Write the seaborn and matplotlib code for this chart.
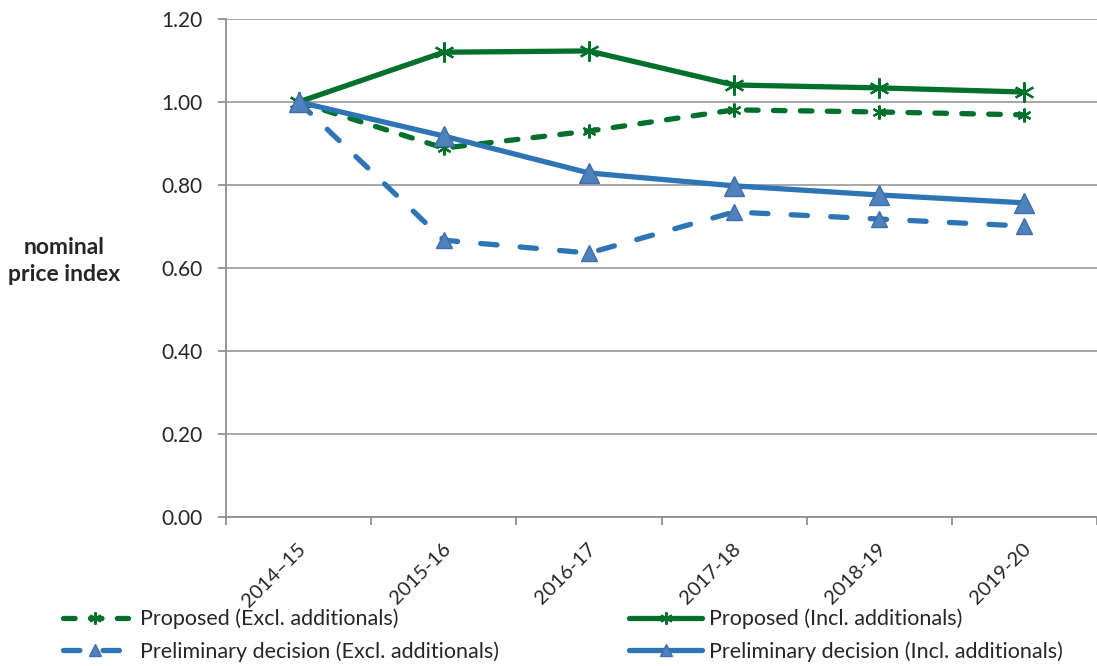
import numpy as np
import pandas as pd
import seaborn as sns
import matplotlib.pyplot as plt
from matplotlib.lines import Line2D
import matplotlib.transforms as mtransforms

years = ["2014\u201315", "2015-16", "2016-17", "2017-18", "2018-19", "2019-20"]
proposed_excl = [1.00, 0.889, 0.930, 0.981, 0.976, 0.969]
proposed_incl = [1.00, 1.120, 1.123, 1.041, 1.034, 1.024]
prelim_excl = [1.00, 0.667, 0.636, 0.735, 0.718, 0.701]
prelim_incl = [1.00, 0.918, 0.829, 0.798, 0.776, 0.757]

green = "#00702C"
blue = "#2E75B6"
tri_fill = "#4F81BD"
tri_edge = "#3F6FA6"
star = (6, 2, 0)
lw = 3.8

sns.set_theme(style="white")
plt.rcParams["font.family"] = ["Lato", "DejaVu Sans"]

fig = plt.figure(figsize=(10.97, 6.66), dpi=100)
ax = fig.add_axes([226 / 1097, 1 - 517 / 666, 871 / 1097, 498 / 666])

x = np.arange(len(years))
series = [
    ("Proposed (Excl. additionals)", proposed_excl, green, (0, (2.2, 2.9)), star, 10, green, green),
    ("Proposed (Incl. additionals)", proposed_incl, green, "-", star, 14.5, green, green),
    ("Preliminary decision (Excl. additionals)", prelim_excl, blue, (0, (3.1, 4.4)), "^", 12, tri_fill, tri_edge),
    ("Preliminary decision (Incl. additionals)", prelim_incl, blue, "-", "^", 14.5, tri_fill, tri_edge),
]

handles = {}
for label, vals, col, ls, mk, ms, mfc, mec in series:
    df = pd.DataFrame({"x": x, "y": vals})
    sns.lineplot(data=df, x="x", y="y", ax=ax, color=col, linewidth=lw,
                 linestyle=ls, marker=mk, markersize=ms, markerfacecolor=mfc,
                 markeredgecolor=mec, markeredgewidth=1.6 if mk == star else 1,
                 dash_capstyle="round")
    handles[label] = Line2D([], [], color=col, linewidth=lw, linestyle=ls, marker=mk,
                            markersize=9, markerfacecolor=mfc,
                            markeredgecolor=mec, markeredgewidth=1.4 if mk == star else 1,
                            dash_capstyle="round")

ax.set_xlim(-0.5, 5.5)
ax.set_ylim(0, 1.2)
yt = np.arange(0, 1.21, 0.2)
ax.set_yticks(yt)
ax.set_yticklabels([f"{v:.2f}" for v in yt], fontsize=15)
ax.yaxis.grid(True, color="#A0A0A0", linewidth=1.3)
ax.set_xticks(np.arange(-0.5, 5.6, 1))
ax.set_xticklabels([])
ax.set_xticks(x, minor=True)
ax.set_xticklabels(years, minor=True, rotation=45, ha="right", va="center",
                   rotation_mode="anchor", fontsize=14.5)
ax.tick_params(axis="x", which="major", length=6, color="#909090", width=1.3, direction="out", bottom=True)
ax.tick_params(axis="x", which="minor", length=0, pad=0)
ax.tick_params(axis="y", length=6, color="#909090", width=1.3, direction="out", left=True, pad=11)
offset = mtransforms.ScaledTranslation(0.04, -0.29, fig.dpi_scale_trans)
for lbl in ax.get_xticklabels(minor=True):
    lbl.set_transform(lbl.get_transform() + offset)

for s in ["top", "right"]:
    ax.spines[s].set_visible(False)
for s in ["left", "bottom"]:
    ax.spines[s].set_color("#909090")
    ax.spines[s].set_linewidth(1.3)

ax.set_xlabel("")
ax.set_ylabel("")
fig.text(64 / 1097, 1 - 261 / 666, "nominal\nprice index", fontsize=16.5, fontweight="bold",
         ha="center", va="center", linespacing=1.3)

# two legend columns placed separately, like the original
cols = [
    (["Proposed (Excl. additionals)", "Preliminary decision (Excl. additionals)"], 63, 3.0, 0.6),
    (["Proposed (Incl. additionals)", "Preliminary decision (Incl. additionals)"], 629, 3.4, 0.3),
]
for labels, xpos, hl, htp in cols:
    fig.legend([handles[k] for k in labels], labels, loc="center left",
               bbox_to_anchor=(xpos / 1097, 1 - 635 / 666), frameon=False, fontsize=15.5,
               handlelength=hl, handletextpad=htp, labelspacing=0.55,
               borderaxespad=0, borderpad=0)

fig.savefig("out.png", dpi=100)
